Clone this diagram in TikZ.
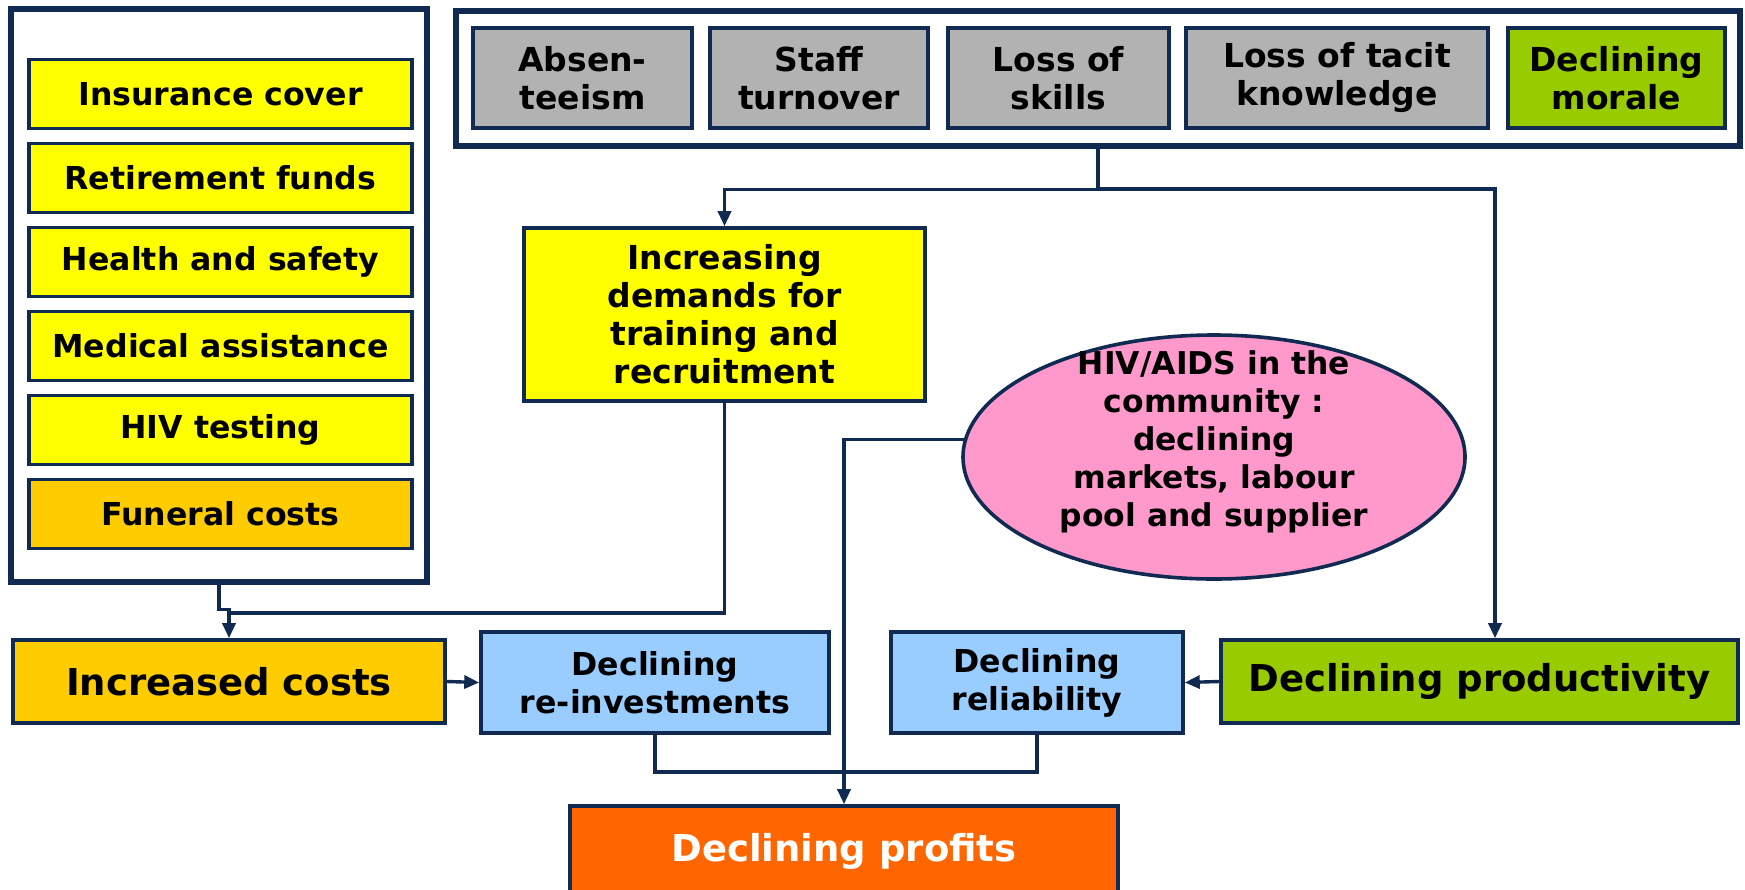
\documentclass[tikz,border=0pt]{standalone}
\usepackage{fontspec}
\setmainfont{DejaVu Sans}
\usetikzlibrary{arrows.meta,shapes.geometric}
\definecolor{navy}{RGB}{16,42,82}
\definecolor{lemon}{RGB}{255,255,0}
\definecolor{gold}{RGB}{255,204,0}
\definecolor{ash}{RGB}{178,178,178}
\definecolor{lime}{RGB}{153,204,0}
\definecolor{sky}{RGB}{153,204,255}
\definecolor{rose}{RGB}{255,153,204}
\definecolor{tangerine}{RGB}{255,102,0}
\tikzset{box/.style={draw=navy, line width=1.8pt, inner sep=0pt, align=center, font=\bfseries\fontsize{15.8}{19}\selectfont}}
\tikzset{bigbox/.style={box, font=\bfseries\fontsize{18.5}{22}\selectfont}}
\tikzset{frame/.style={draw=navy, line width=2.6pt, inner sep=0pt}}
\tikzset{link/.style={navy, line width=1.7pt}}
\tikzset{arr/.style={link, -{Triangle[width=6.5pt,length=7.5pt]}}}

\begin{document}
\begin{tikzpicture}[x=0.5pt,y=-0.5pt]
\useasboundingbox (0,0) rectangle (1745,889);
\node[frame, minimum width=208pt, minimum height=286.5pt] (costbox) at (219,295.5) {};
\foreach \t/\c [count=\i from 0] in {Insurance cover/lemon, Retirement funds/lemon, Health and safety/lemon, Medical assistance/lemon, HIV testing/lemon, Funeral costs/gold}
  \node[box, fill=\c, minimum width=191.5pt, minimum height=34.5pt] (c\i) at (220.5,94+84*\i) {\t};
\node[frame, minimum width=642pt, minimum height=67.5pt] (top) at (1098,78.5) {};
\foreach \x/\w/\t/\c [count=\i] in {582.5/109.5/{Absen-\\teeism}/ash, 819/109/{Staff\\turnover}/ash, 1058.5/110.5/{Loss of\\skills}/ash, 1337/151/{Loss of tacit\\knowledge}/ash, 1616.5/108.5/{Declining\\morale}/lime}
  \node[box, fill=\c, font=\bfseries\fontsize{16.5}{19}\selectfont, minimum width=\w pt, minimum height=50pt] (g\i) at (\x,78) {\t};
\node[box, fill=lemon, font=\bfseries\fontsize{16.5}{19}\selectfont, minimum width=200.5pt, minimum height=86.5pt] (demands) at (724.5,314.5) {Increasing\\demands for\\training and\\recruitment};
\node[ellipse, draw=navy, line width=1.8pt, fill=rose, minimum width=251pt, minimum height=122pt, inner sep=0pt] (hiv) at (1214,457) {};
\node[align=center, font=\bfseries\fontsize{15.7}{19}\selectfont] (hivlbl) at (1214,442) {HIV/AIDS in the\\community :\\declining\\markets, labour\\pool and supplier};
\node[bigbox, fill=gold, minimum width=216pt, minimum height=41.5pt] (costs) at (229,681.5) {Increased costs};
\node[box, fill=sky, minimum width=174pt, minimum height=50.5pt] (reinv) at (655,682.5) {Declining\\re-investments};
\node[box, fill=sky, minimum width=146pt, minimum height=50.5pt] (reliab) at (1037,682.5) {Declining\\reliability};
\node[bigbox, fill=lime, minimum width=258.5pt, minimum height=41.5pt] (prod) at (1479.5,681.5) {Declining productivity};
\node[bigbox, fill=tangerine, text=white, minimum width=274pt, minimum height=45pt] (profits) at (844,851) {Declining profits};
\coordinate (pin) at (1495,189);
\coordinate (jn) at (229,613);
\draw[arr] (top.south) -- ++(0,41) -| (demands.north);
\draw[arr] (top.south) |- (pin) -- (pin |- prod.north);
\draw[arr] (costbox.south) -- ++(0,25) -| (costs.north);
\draw[link] (demands.south) |- (jn);
\draw[arr] (costs.east) -- (reinv.west);
\draw[arr] (prod.west) -- (reliab.east);
\draw[link] (reinv.south) -- ++(0,37) -| (reliab.south);
\draw[arr] (hiv.176) -| (profits.north);
\end{tikzpicture}
\end{document}
